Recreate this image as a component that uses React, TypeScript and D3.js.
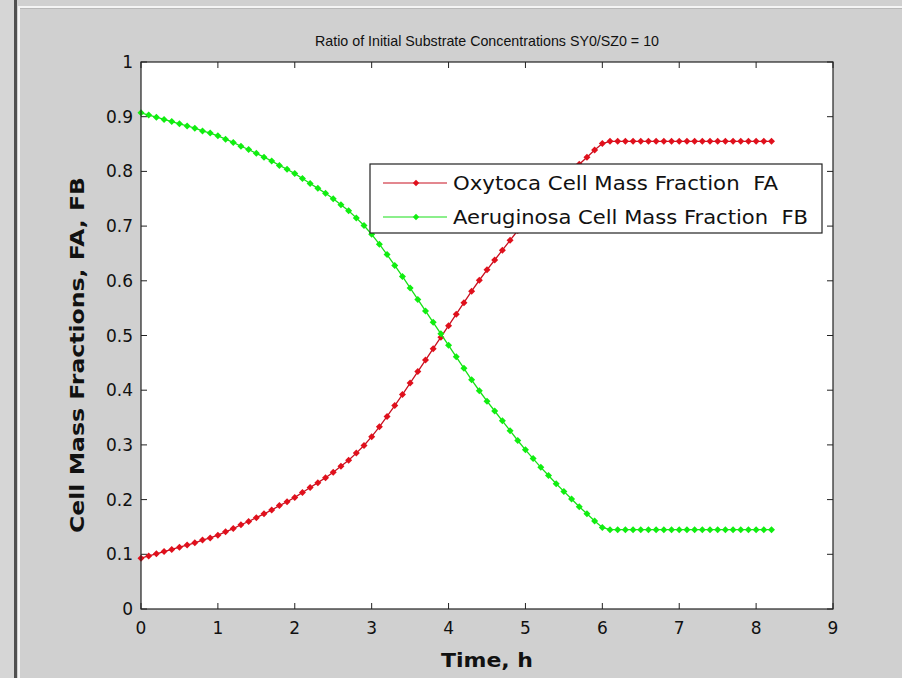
import React from "react";
import * as d3 from "d3";

const TITLE = "Ratio of Initial Substrate Concentrations SY0/SZ0 = 10";
const X_LABEL = "Time, h";
const Y_LABEL = "Cell Mass Fractions, FA, FB";
const SERIES_NAMES = ["Oxytoca Cell Mass Fraction  FA", "Aeruginosa Cell Mass Fraction  FB"];
const X_TICKS = [0, 1, 2, 3, 4, 5, 6, 7, 8, 9];
const Y_TICKS = [0, 0.1, 0.2, 0.3, 0.4, 0.5, 0.6, 0.7, 0.8, 0.9, 1];
const Y_TICK_LABELS = ["0", "0.1", "0.2", "0.3", "0.4", "0.5", "0.6", "0.7", "0.8", "0.9", "1"];

const TIME = [
  0.0, 0.1, 0.2, 0.3, 0.4, 0.5, 0.6, 0.7, 0.8, 0.9,
  1.0, 1.1, 1.2, 1.3, 1.4, 1.5, 1.6, 1.7, 1.8, 1.9,
  2.0, 2.1, 2.2, 2.3, 2.4, 2.5, 2.6, 2.7, 2.8, 2.9,
  3.0, 3.1, 3.2, 3.3, 3.4, 3.5, 3.6, 3.7, 3.8, 3.9,
  4.0, 4.1, 4.2, 4.3, 4.4, 4.5, 4.6, 4.7, 4.8, 4.9,
  5.0, 5.1, 5.2, 5.3, 5.4, 5.5, 5.6, 5.7, 5.8, 5.9,
  6.0, 6.1, 6.2, 6.3, 6.4, 6.5, 6.6, 6.7, 6.8, 6.9,
  7.0, 7.1, 7.2, 7.3, 7.4, 7.5, 7.6, 7.7, 7.8, 7.9,
  8.0, 8.1, 8.2,
];

const FA = [
  0.093, 0.097, 0.101, 0.105, 0.109, 0.113, 0.117, 0.121, 0.126, 0.130,
  0.135, 0.141, 0.147, 0.154, 0.160, 0.167, 0.174, 0.181, 0.189, 0.196,
  0.204, 0.213, 0.222, 0.231, 0.240, 0.250, 0.261, 0.272, 0.285, 0.299,
  0.315, 0.333, 0.352, 0.372, 0.392, 0.413, 0.434, 0.455, 0.476, 0.497,
  0.518, 0.539, 0.560, 0.581, 0.601, 0.620, 0.638, 0.656, 0.674, 0.692,
  0.709, 0.725, 0.741, 0.756, 0.771, 0.785, 0.799, 0.813, 0.826, 0.839,
  0.851, 0.855, 0.855, 0.855, 0.855, 0.855, 0.855, 0.855, 0.855, 0.855,
  0.855, 0.855, 0.855, 0.855, 0.855, 0.855, 0.855, 0.855, 0.855, 0.855,
  0.855, 0.855, 0.855,
];

const FB = [
  0.907, 0.903, 0.899, 0.895, 0.891, 0.887, 0.883, 0.879, 0.874, 0.870,
  0.865, 0.859, 0.853, 0.846, 0.840, 0.833, 0.826, 0.819, 0.811, 0.804,
  0.796, 0.787, 0.778, 0.769, 0.760, 0.750, 0.739, 0.728, 0.715, 0.701,
  0.685, 0.667, 0.648, 0.628, 0.608, 0.587, 0.566, 0.545, 0.524, 0.503,
  0.482, 0.461, 0.440, 0.419, 0.399, 0.380, 0.362, 0.344, 0.326, 0.308,
  0.291, 0.275, 0.259, 0.244, 0.229, 0.215, 0.201, 0.187, 0.174, 0.161,
  0.149, 0.145, 0.145, 0.145, 0.145, 0.145, 0.145, 0.145, 0.145, 0.145,
  0.145, 0.145, 0.145, 0.145, 0.145, 0.145, 0.145, 0.145, 0.145, 0.145,
  0.145, 0.145, 0.145,
];

const W = 902;
const H = 678;
const PL = 141, PR = 833, PT = 62, PB = 609;
const FONT = "'DejaVu Sans', 'Liberation Sans', Arial, sans-serif";
const FONT_ARIAL = "'Liberation Sans', Arial, sans-serif";
const COLORS = [
  { line: "#c81020", marker: "#e0101c" },
  { line: "#18e018", marker: "#10ee10" },
];

function Diamond({ cx, cy, r, fill }: { cx: number; cy: number; r: number; fill: string }) {
  return (
    <path
      d={`M${cx},${cy - r}L${cx + r},${cy}L${cx},${cy + r}L${cx - r},${cy}Z`}
      fill={fill}
    />
  );
}

export default function App() {
  const x = d3.scaleLinear().domain([0, 9]).range([PL, PR]);
  const y = d3.scaleLinear().domain([0, 1]).range([PB, PT]);
  const line = d3
    .line<[number, number]>()
    .x((d) => x(d[0]))
    .y((d) => y(d[1]));
  const series = [FA, FB].map((vals) => TIME.map((t, i) => [t, vals[i]] as [number, number]));
  const tickLen = 6;

  const legX = 370, legY = 164, legW = 452, legH = 69;
  const rowY = [183, 217];

  return (
    <svg
      width={W}
      height={H}
      style={{ position: "absolute", left: 0, top: 0, display: "block" }}
      fontFamily={FONT}
    >
      <rect x={0} y={0} width={W} height={H} fill="#d0d0d0" />
      {/* window frame */}
      <rect x={0} y={0} width={14} height={H} fill="#d6d6d6" />
      <rect x={14} y={0} width={3} height={H} fill="#505050" />
      <rect x={18} y={6} width={2} height={H} fill="#f4f4f4" />
      <rect x={18} y={6} width={W} height={2} fill="#f4f4f4" />
      <rect x={20} y={8} width={W} height={1} fill="#b8b8b8" />

      {/* plot area */}
      <rect x={PL} y={PT} width={PR - PL} height={PB - PT} fill="#ffffff" />

      {/* ticks */}
      {X_TICKS.map((t) => (
        <g key={"xt" + t}>
          <line x1={x(t)} x2={x(t)} y1={PB} y2={PB - tickLen} stroke="#222" />
          <line x1={x(t)} x2={x(t)} y1={PT} y2={PT + tickLen} stroke="#222" />
          <text x={x(t)} y={634} fontSize={17} textAnchor="middle" fill="#111">
            {String(t)}
          </text>
        </g>
      ))}
      {Y_TICKS.map((t, i) => (
        <g key={"yt" + t}>
          <line x1={PL} x2={PL + tickLen} y1={y(t)} y2={y(t)} stroke="#222" />
          <line x1={PR} x2={PR - tickLen} y1={y(t)} y2={y(t)} stroke="#222" />
          <text x={133} y={y(t) + 6} fontSize={17} textAnchor="end" fill="#111">
            {Y_TICK_LABELS[i]}
          </text>
        </g>
      ))}

      {/* series */}
      {series.map((pts, si) => (
        <g key={"s" + si}>
          <path d={line(pts) || ""} fill="none" stroke={COLORS[si].line} strokeWidth={1.3} />
          {pts.map((p, i) => (
            <Diamond key={i} cx={x(p[0])} cy={y(p[1])} r={3.5} fill={COLORS[si].marker} />
          ))}
        </g>
      ))}

      {/* frame */}
      <rect
        x={PL}
        y={PT}
        width={PR - PL}
        height={PB - PT}
        fill="none"
        stroke="#222"
        strokeWidth={1.2}
      />

      {/* legend */}
      <rect x={legX} y={legY} width={legW} height={legH} fill="#fff" stroke="#222" strokeWidth={1.2} />
      {SERIES_NAMES.map((name, i) => (
        <g key={"leg" + i}>
          <line x1={383} x2={447} y1={rowY[i]} y2={rowY[i]} stroke={COLORS[i].line} strokeWidth={1.2} />
          <Diamond cx={416} cy={rowY[i]} r={3.2} fill={COLORS[i].marker} />
          <text
            x={453}
            y={rowY[i] + 7}
            fontSize={19}
            fill="#111"
            textLength={i === 0 ? 325 : 355}
            lengthAdjust="spacingAndGlyphs"
            style={{ whiteSpace: "pre" }}
          >
            {name}
          </text>
        </g>
      ))}

      {/* title */}
      <text
        x={(PL + PR) / 2}
        y={46}
        fontSize={15}
        fontFamily={FONT_ARIAL}
        textAnchor="middle"
        fill="#111"
        textLength={344}
        lengthAdjust="spacingAndGlyphs"
      >
        {TITLE}
      </text>

      {/* axis labels */}
      <text
        x={(PL + PR) / 2}
        y={667}
        fontSize={19}
        fontWeight="bold"
        textAnchor="middle"
        fill="#111"
        textLength={92}
        lengthAdjust="spacingAndGlyphs"
      >
        {X_LABEL}
      </text>
      <text
        transform={`translate(84, 355) rotate(-90)`}
        fontSize={20}
        fontWeight="bold"
        textAnchor="middle"
        fill="#111"
        textLength={356}
        lengthAdjust="spacingAndGlyphs"
      >
        {Y_LABEL}
      </text>
    </svg>
  );
}
